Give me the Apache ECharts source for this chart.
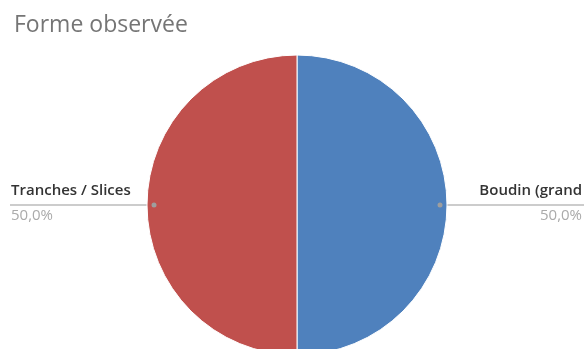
<!DOCTYPE html>
<html>
<head>
<meta charset="utf-8">
<script src="https://cdn.jsdelivr.net/npm/echarts@6/dist/echarts.min.js"></script>
<style>
  html, body { margin: 0; padding: 0; background: #fff; }
  #main { width: 584px; height: 349px; }
</style>
</head>
<body>
<div id="main"></div>
<script>
// Observed shape distribution
const categories = ['Boudin (grand format)', 'Tranches / Slices'];
const values = [1, 1];
const sliceColors = ['#4F81BD', '#C0504D'];
// label boxes: the right-hand one is cut to the space left at the chart edge
const labelWidths = [105, 140];

const W = 584;
const FONT = 'Open Sans';
const dotPoints = {};

const chart = echarts.init(document.getElementById('main'));

function pctText(p) {
  return p.toFixed(1).replace('.', ',') + '%';
}

chart.setOption({
  animation: false,
  title: {
    text: 'Forme observée',
    left: 9,
    top: 9,
    textStyle: { fontFamily: FONT, fontSize: 23, fontWeight: 'normal', color: '#757575' }
  },
  series: [{
    type: 'pie',
    center: [297, 205],
    radius: 150,
    startAngle: 90,
    clockwise: true,
    data: categories.map((name, i) => ({
      name: name,
      value: values[i],
      itemStyle: { color: sliceColors[i] },
      label: { width: labelWidths[i], overflow: 'truncate', ellipsis: '' }
    })),
    itemStyle: { borderColor: '#fff', borderWidth: 1 },
    label: {
      show: true,
      position: 'outside',
      formatter: p => '{name|' + p.name + '}\n{pct|' + pctText(p.percent) + '}',
      rich: {
        name: { fontFamily: FONT, fontSize: 15, fontWeight: 600, color: '#333', lineHeight: 22 },
        pct: { fontFamily: FONT, fontSize: 15, color: '#aaa', lineHeight: 28 }
      }
    },
    labelLine: { show: true, lineStyle: { color: '#999', width: 1 } },
    labelLayout: function (params) {
      const pts = params.labelLinePoints;
      if (!pts) return {};
      const dir = pts[1][0] >= pts[0][0] ? 1 : -1;
      const y = pts[0][1];
      const start = [pts[0][0] - dir * 7, y];
      const end = [dir > 0 ? W : 10, y];
      dotPoints[params.dataIndex] = start;
      return {
        x: dir > 0 ? W - 2 : 11,
        y: y,
        align: dir > 0 ? 'right' : 'left',
        verticalAlign: 'middle',
        labelLinePoints: [start, [(start[0] + end[0]) / 2, y], end]
      };
    }
  }]
});

// small markers where each leader line meets its slice
chart.setOption({
  graphic: Object.keys(dotPoints).map(k => ({
    type: 'circle',
    shape: { cx: dotPoints[k][0], cy: dotPoints[k][1], r: 2.5 },
    style: { fill: '#9e9e9e' },
    z: 100
  }))
});
</script>
</body>
</html>
